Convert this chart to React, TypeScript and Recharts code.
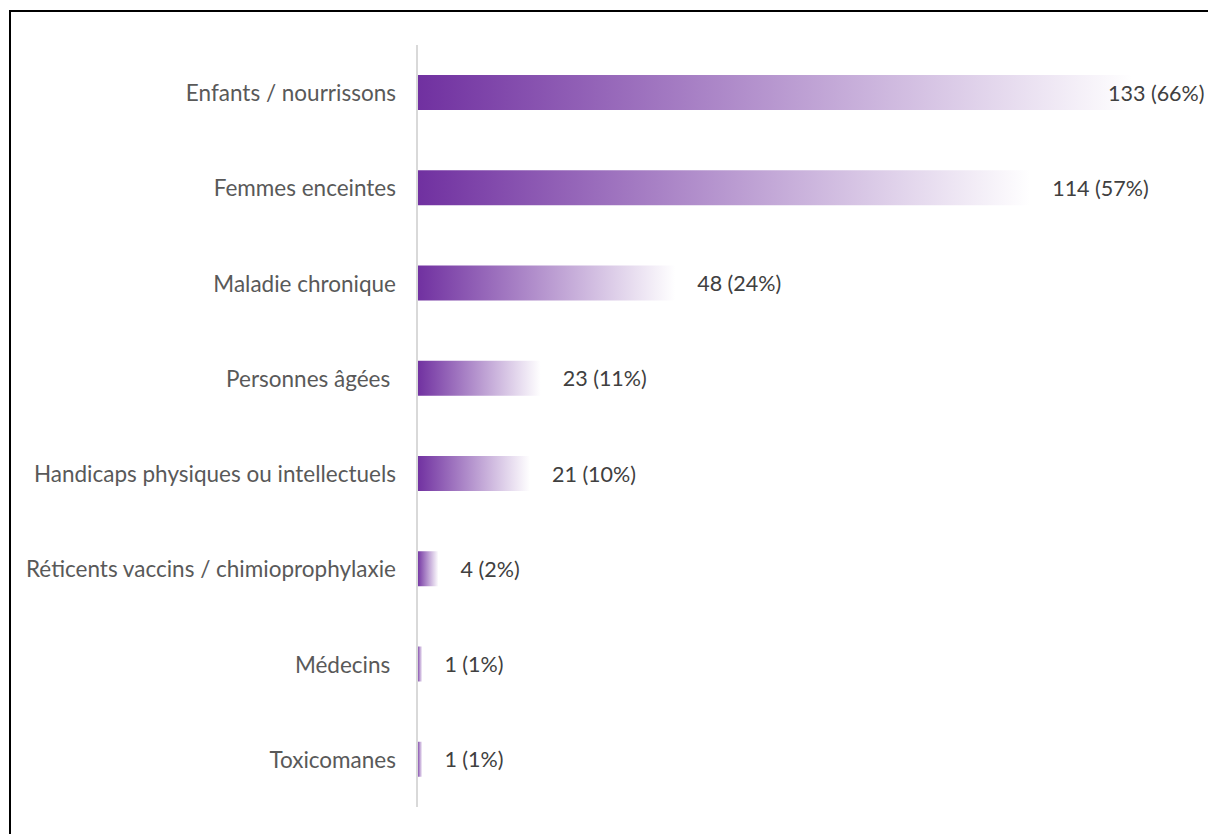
import React from 'react';
import { BarChart, Bar, XAxis, YAxis, LabelList } from 'recharts';

const categories = [
  'Enfants / nourrissons',
  'Femmes enceintes',
  'Maladie chronique',
  'Personnes âgées ',
  'Handicaps physiques ou intellectuels',
  'Réticents vaccins / chimioprophylaxie',
  'Médecins ',
  'Toxicomanes',
];
const counts = [133, 114, 48, 23, 21, 4, 1, 1];
const percents = [66, 57, 24, 11, 10, 2, 1, 1];

const data = categories.map((name, i) => ({
  name,
  count: counts[i],
  label: `${counts[i]} (${percents[i]}%)`,
}));

const FONT = 'Lato, "Open Sans", sans-serif';
const CHART_W = 1208;

const CategoryTick = (props: any) => {
  const { x, y, payload } = props;
  return (
    <text
      x={x - 13}
      y={y}
      textAnchor='end'
      dominantBaseline='central'
      fill='#595959'
      fontSize={22.5}
      fontFamily={FONT}
      style={{ whiteSpace: 'pre' }}
    >
      {payload.value}
    </text>
  );
};

const ValueLabel = (props: any) => {
  const { x, y, width, height, value } = props;
  // keep the label inside the picture, like the original
  const lx = Math.min(x + width + 22, CHART_W - 100);
  return (
    <text
      x={lx}
      y={y + height / 2}
      dominantBaseline='central'
      fill='#404040'
      fontSize={21.5}
      fontFamily={FONT}
    >
      {value}
    </text>
  );
};

const App = () => {
  return (
    <div
      style={{
        position: 'fixed',
        left: 0,
        top: 0,
        width: 1208,
        height: 834,
        overflow: 'hidden',
        background: '#fff',
      }}
    >
      <div
        style={{
          position: 'absolute',
          left: 9,
          top: 10,
          width: 1220,
          height: 840,
          border: '2px solid #000',
        }}
      />
      <div style={{ position: 'absolute', left: 0, top: 0 }}>
        <BarChart
          layout='vertical'
          width={1208}
          height={834}
          data={data}
          margin={{ top: 45, right: 38, bottom: 27, left: 0 }}
        >
          <defs>
            <linearGradient id='barFade' x1='0' y1='0' x2='1' y2='0'>
              <stop offset='0%' stopColor='#7030A0' />
              <stop offset='100%' stopColor='#ffffff' />
            </linearGradient>
          </defs>
          <XAxis type='number' domain={[0, 140]} hide />
          <YAxis
            type='category'
            dataKey='name'
            width={417}
            axisLine={{ stroke: '#d9d9d9', strokeWidth: 2 }}
            tickLine={false}
            tick={<CategoryTick />}
            interval={0}
          />
          <Bar
            dataKey='count'
            barSize={35}
            fill='url(#barFade)'
            isAnimationActive={false}
          >
            <LabelList dataKey='label' content={<ValueLabel />} />
          </Bar>
        </BarChart>
      </div>
    </div>
  );
};

export default App;
